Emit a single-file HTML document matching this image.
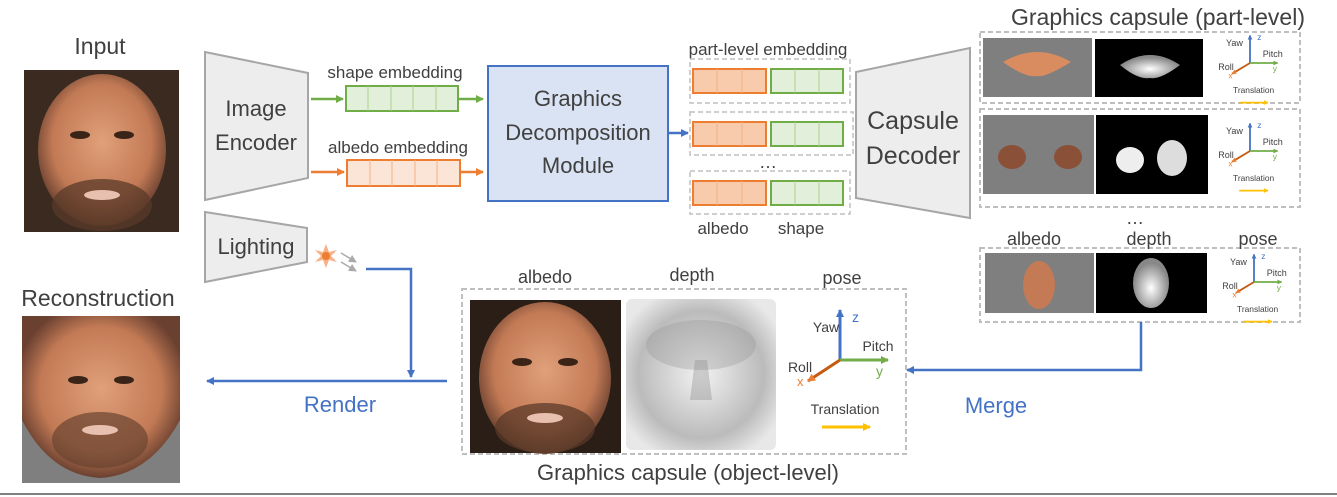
<!DOCTYPE html>
<html><head><meta charset="utf-8"><style>
html,body{margin:0;padding:0;background:#fff;}
svg{display:block;}
text{font-family:"Liberation Sans",sans-serif;fill:#404040;}
</style></head><body>
<svg width="1337" height="497" viewBox="0 0 1337 497" xmlns="http://www.w3.org/2000/svg">
<defs>
<radialGradient id="skin" cx="50%" cy="45%" r="55%"><stop offset="0" stop-color="#e0a07a"/><stop offset="0.7" stop-color="#c27a55"/><stop offset="1" stop-color="#6a4030"/></radialGradient>
<radialGradient id="dep" cx="50%" cy="50%" r="60%"><stop offset="0" stop-color="#f2f2f2"/><stop offset="0.7" stop-color="#bbbbbb"/><stop offset="1" stop-color="#e8e8e8"/></radialGradient>
<radialGradient id="wd" cx="50%" cy="60%" r="50%"><stop offset="0" stop-color="#ffffff"/><stop offset="1" stop-color="#888"/></radialGradient>
<marker id="ab" markerWidth="8" markerHeight="8" refX="7" refY="4" orient="auto" markerUnits="userSpaceOnUse"><path d="M0,0 L8,4 L0,8 z" fill="#4472c4"/></marker>
<marker id="ag" markerWidth="8" markerHeight="8" refX="7" refY="4" orient="auto" markerUnits="userSpaceOnUse"><path d="M0,0 L8,4 L0,8 z" fill="#70ad47"/></marker>
<marker id="ao" markerWidth="8" markerHeight="8" refX="7" refY="4" orient="auto" markerUnits="userSpaceOnUse"><path d="M0,0 L8,4 L0,8 z" fill="#ed7d31"/></marker>
<marker id="ay" markerWidth="8" markerHeight="8" refX="7" refY="4" orient="auto" markerUnits="userSpaceOnUse"><path d="M0,0 L8,4 L0,8 z" fill="#ffc000"/></marker>
<marker id="agr" markerWidth="8" markerHeight="8" refX="7" refY="4" orient="auto" markerUnits="userSpaceOnUse"><path d="M0,0 L8,4 L0,8 z" fill="#aaa"/></marker>
</defs>

<!-- Input -->
<text x="100" y="54" font-size="23" text-anchor="middle">Input</text>
<rect x="24" y="70" width="155" height="162" fill="#3a2a20"/>
<ellipse cx="102" cy="150" rx="64" ry="76" fill="url(#skin)"/>
<ellipse cx="80" cy="135" rx="10" ry="4" fill="#3a2418"/><ellipse cx="124" cy="135" rx="10" ry="4" fill="#3a2418"/>
<ellipse cx="102" cy="205" rx="50" ry="26" fill="#5a3a28" opacity="0.75"/>
<ellipse cx="102" cy="195" rx="18" ry="5" fill="#e8c0b0"/>
<text x="98" y="306" font-size="23" text-anchor="middle">Reconstruction</text>
<rect x="22" y="316" width="158" height="167" fill="#7f7f7f"/>
<path d="M22,316 H180 V420 Q150,475 100,478 Q50,475 22,420 Z" fill="url(#skin)"/>
<ellipse cx="78" cy="380" rx="10" ry="4" fill="#3a2418"/><ellipse cx="124" cy="380" rx="10" ry="4" fill="#3a2418"/>
<ellipse cx="100" cy="440" rx="48" ry="28" fill="#6a4430" opacity="0.7"/>
<ellipse cx="100" cy="430" rx="18" ry="5" fill="#e8c0b0"/>

<!-- Encoder -->
<polygon points="205,52 308,73 308,178 205,200" fill="#ededed" stroke="#a6a6a6" stroke-width="2"/>
<text x="256" y="116" font-size="22" text-anchor="middle">Image</text>
<text x="256" y="150" font-size="22" text-anchor="middle">Encoder</text>
<polygon points="205,212 307,228 307,262 205,282" fill="#ededed" stroke="#a6a6a6" stroke-width="2"/>
<text x="256" y="254" font-size="22" text-anchor="middle">Lighting</text>
<polygon points="326,244 329,252 337,250 331,256 337,262 329,260 326,268 323,260 315,262 321,256 315,250 323,252" fill="#f8b088"/>
<circle cx="326" cy="256" r="4" fill="#ed7d31"/>
<line x1="341" y1="253" x2="356" y2="262" stroke="#aaa" stroke-width="1.5" marker-end="url(#agr)"/>
<line x1="341" y1="262" x2="356" y2="271" stroke="#aaa" stroke-width="1.5" marker-end="url(#agr)"/>
<polyline points="366,269 411,269 411,377" fill="none" stroke="#4472c4" stroke-width="2.5" marker-end="url(#ab)"/>

<!-- embeddings -->
<text x="395" y="78" font-size="17" text-anchor="middle">shape embedding</text>
<line x1="311" y1="99" x2="343" y2="99" stroke="#70ad47" stroke-width="2.5" marker-end="url(#ag)"/>
<rect x="346" y="86" width="112" height="25" fill="#e2efda" stroke="#70ad47" stroke-width="2"/>
<g stroke="#a9d18e" stroke-width="1"><line x1="368" y1="86" x2="368" y2="111"/><line x1="391" y1="86" x2="391" y2="111"/><line x1="413" y1="86" x2="413" y2="111"/><line x1="436" y1="86" x2="436" y2="111"/></g>
<line x1="458" y1="99" x2="483" y2="99" stroke="#70ad47" stroke-width="2.5" marker-end="url(#ag)"/>
<text x="398" y="153" font-size="17" text-anchor="middle">albedo embedding</text>
<line x1="311" y1="172" x2="344" y2="172" stroke="#ed7d31" stroke-width="2.5" marker-end="url(#ao)"/>
<rect x="347" y="160" width="113" height="26" fill="#fbe5d6" stroke="#ed7d31" stroke-width="2"/>
<g stroke="#f4b183" stroke-width="1"><line x1="370" y1="160" x2="370" y2="186"/><line x1="392" y1="160" x2="392" y2="186"/><line x1="415" y1="160" x2="415" y2="186"/><line x1="437" y1="160" x2="437" y2="186"/></g>
<line x1="460" y1="172" x2="483" y2="172" stroke="#ed7d31" stroke-width="2.5" marker-end="url(#ao)"/>

<!-- GDM -->
<rect x="488" y="66" width="180" height="135" fill="#dae3f3" stroke="#4472c4" stroke-width="2"/>
<text x="578" y="106" font-size="22" text-anchor="middle">Graphics</text>
<text x="578" y="140" font-size="22" text-anchor="middle">Decomposition</text>
<text x="578" y="173" font-size="22" text-anchor="middle">Module</text>
<line x1="668" y1="133" x2="688" y2="133" stroke="#4472c4" stroke-width="2.5" marker-end="url(#ab)"/>

<!-- part embeddings -->
<text x="768" y="55" font-size="17" text-anchor="middle">part-level embedding</text>
<g fill="none" stroke="#bfbfbf" stroke-width="1.5" stroke-dasharray="5,3">
<rect x="690" y="59" width="160" height="44"/><rect x="690" y="112" width="163" height="43"/><rect x="690" y="171" width="160" height="43"/>
</g>
<g stroke-width="2">
<rect x="693" y="69" width="73" height="24" fill="#f8cbad" stroke="#ed7d31"/><rect x="771" y="69" width="72" height="24" fill="#e2efda" stroke="#70ad47"/>
<rect x="693" y="122" width="73" height="24" fill="#f8cbad" stroke="#ed7d31"/><rect x="771" y="122" width="72" height="24" fill="#e2efda" stroke="#70ad47"/>
<rect x="693" y="181" width="73" height="24" fill="#f8cbad" stroke="#ed7d31"/><rect x="771" y="181" width="72" height="24" fill="#e2efda" stroke="#70ad47"/>
</g>
<g stroke-width="1"><g stroke="#f4b183"><line x1="717" y1="69" x2="717" y2="93"/><line x1="742" y1="69" x2="742" y2="93"/><line x1="717" y1="122" x2="717" y2="146"/><line x1="742" y1="122" x2="742" y2="146"/><line x1="717" y1="181" x2="717" y2="205"/><line x1="742" y1="181" x2="742" y2="205"/></g>
<g stroke="#a9d18e"><line x1="795" y1="69" x2="795" y2="93"/><line x1="819" y1="69" x2="819" y2="93"/><line x1="795" y1="122" x2="795" y2="146"/><line x1="819" y1="122" x2="819" y2="146"/><line x1="795" y1="181" x2="795" y2="205"/><line x1="819" y1="181" x2="819" y2="205"/></g></g>
<text x="768" y="168" font-size="18" text-anchor="middle">…</text>
<text x="723" y="234" font-size="17" text-anchor="middle">albedo</text>
<text x="801" y="234" font-size="17" text-anchor="middle">shape</text>

<!-- Capsule decoder -->
<polygon points="856,72 970,48 970,218 856,198" fill="#ededed" stroke="#a6a6a6" stroke-width="2"/>
<text x="913" y="129" font-size="25" text-anchor="middle">Capsule</text>
<text x="913" y="164" font-size="25" text-anchor="middle">Decoder</text>

<!-- part-level capsules -->
<text x="1158" y="25" font-size="23" text-anchor="middle">Graphics capsule (part-level)</text>
<g fill="none" stroke="#bfbfbf" stroke-width="2" stroke-dasharray="5,3">
<rect x="980" y="32" width="320" height="71"/><rect x="980" y="109" width="320" height="98"/><rect x="980" y="248" width="320" height="74"/>
</g>
<rect x="983" y="38" width="109" height="59" fill="#7f7f7f"/><path d="M1003,62 Q1037,42 1071,62 Q1045,78 1037,76 Q1025,78 1003,62 Z" fill="#d98c60"/>
<rect x="1095" y="39" width="108" height="58" fill="#000"/><path d="M1120,65 Q1150,45 1180,65 Q1160,80 1150,78 Q1138,80 1120,65 Z" fill="url(#wd)"/>
<rect x="983" y="115" width="111" height="79" fill="#7f7f7f"/><ellipse cx="1012" cy="157" rx="14" ry="12" fill="#8a5038"/><ellipse cx="1068" cy="157" rx="14" ry="12" fill="#8a5038"/>
<rect x="1096" y="115" width="112" height="79" fill="#000"/><ellipse cx="1130" cy="160" rx="14" ry="13" fill="#eee"/><ellipse cx="1172" cy="158" rx="15" ry="18" fill="#ddd"/>
<text x="1135" y="224" font-size="18" text-anchor="middle">…</text>
<text x="1034" y="245" font-size="18" text-anchor="middle">albedo</text>
<text x="1149" y="245" font-size="18" text-anchor="middle">depth</text>
<text x="1258" y="245" font-size="18" text-anchor="middle">pose</text>
<rect x="985" y="253" width="109" height="60" fill="#7f7f7f"/><ellipse cx="1039" cy="285" rx="16" ry="24" fill="#c47a55"/>
<rect x="1096" y="253" width="111" height="60" fill="#000"/><ellipse cx="1151" cy="283" rx="18" ry="25" fill="url(#wd)"/>

<!-- pose icons -->
<g transform="translate(1250,63) scale(0.6)">
<line x1="0" y1="0" x2="0" y2="-46" stroke="#4472c4" stroke-width="3" marker-end="url(#ab)"/>
<line x1="0" y1="0" x2="46" y2="0" stroke="#70ad47" stroke-width="3" marker-end="url(#ag)"/>
<line x1="0" y1="0" x2="-30" y2="18" stroke="#c55a11" stroke-width="3" marker-end="url(#ao)"/>
<text x="-26" y="-28" font-size="15" text-anchor="middle">Yaw</text><text x="12" y="-38" font-size="14" style="fill:#4472c4">z</text>
<text x="38" y="-10" font-size="15" text-anchor="middle">Pitch</text><text x="38" y="14" font-size="14" style="fill:#70ad47">y</text>
<text x="-40" y="12" font-size="15" text-anchor="middle">Roll</text><text x="-36" y="26" font-size="14" style="fill:#ed7d31">x</text>
<text x="6" y="50" font-size="14" text-anchor="middle">Translation</text>
<line x1="-18" y1="66" x2="30" y2="66" stroke="#ffc000" stroke-width="3" marker-end="url(#ay)"/>
</g>
<g transform="translate(1250,151) scale(0.6)">
<line x1="0" y1="0" x2="0" y2="-46" stroke="#4472c4" stroke-width="3" marker-end="url(#ab)"/>
<line x1="0" y1="0" x2="46" y2="0" stroke="#70ad47" stroke-width="3" marker-end="url(#ag)"/>
<line x1="0" y1="0" x2="-30" y2="18" stroke="#c55a11" stroke-width="3" marker-end="url(#ao)"/>
<text x="-26" y="-28" font-size="15" text-anchor="middle">Yaw</text><text x="12" y="-38" font-size="14" style="fill:#4472c4">z</text>
<text x="38" y="-10" font-size="15" text-anchor="middle">Pitch</text><text x="38" y="14" font-size="14" style="fill:#70ad47">y</text>
<text x="-40" y="12" font-size="15" text-anchor="middle">Roll</text><text x="-36" y="26" font-size="14" style="fill:#ed7d31">x</text>
<text x="6" y="50" font-size="14" text-anchor="middle">Translation</text>
<line x1="-18" y1="66" x2="30" y2="66" stroke="#ffc000" stroke-width="3" marker-end="url(#ay)"/>
</g>
<g transform="translate(1254,282) scale(0.6)">
<line x1="0" y1="0" x2="0" y2="-46" stroke="#4472c4" stroke-width="3" marker-end="url(#ab)"/>
<line x1="0" y1="0" x2="46" y2="0" stroke="#70ad47" stroke-width="3" marker-end="url(#ag)"/>
<line x1="0" y1="0" x2="-30" y2="18" stroke="#c55a11" stroke-width="3" marker-end="url(#ao)"/>
<text x="-26" y="-28" font-size="15" text-anchor="middle">Yaw</text><text x="12" y="-38" font-size="14" style="fill:#4472c4">z</text>
<text x="38" y="-10" font-size="15" text-anchor="middle">Pitch</text><text x="38" y="14" font-size="14" style="fill:#70ad47">y</text>
<text x="-40" y="12" font-size="15" text-anchor="middle">Roll</text><text x="-36" y="26" font-size="14" style="fill:#ed7d31">x</text>
<text x="6" y="50" font-size="14" text-anchor="middle">Translation</text>
<line x1="-18" y1="66" x2="30" y2="66" stroke="#ffc000" stroke-width="3" marker-end="url(#ay)"/>
</g>

<!-- merge -->
<polyline points="1141,322 1141,370 907,370" fill="none" stroke="#4472c4" stroke-width="2.5" marker-end="url(#ab)"/>
<text x="996" y="413" font-size="22" text-anchor="middle" style="fill:#4472c4">Merge</text>

<!-- object-level -->
<text x="545" y="283" font-size="18" text-anchor="middle">albedo</text>
<text x="692" y="281" font-size="18" text-anchor="middle">depth</text>
<text x="842" y="284" font-size="18" text-anchor="middle">pose</text>
<rect x="462" y="289" width="444" height="165" fill="none" stroke="#bfbfbf" stroke-width="2" stroke-dasharray="5,3"/>
<rect x="470" y="300" width="151" height="153" fill="#2a1e16"/>
<ellipse cx="545" cy="378" rx="66" ry="76" fill="url(#skin)"/>
<ellipse cx="522" cy="362" rx="10" ry="4" fill="#3a2418"/><ellipse cx="568" cy="362" rx="10" ry="4" fill="#3a2418"/>
<ellipse cx="545" cy="428" rx="50" ry="25" fill="#5a3a28" opacity="0.75"/>
<ellipse cx="545" cy="418" rx="18" ry="5" fill="#e8c0b0"/>
<rect x="626" y="299" width="150" height="151" rx="6" fill="url(#dep)"/>
<ellipse cx="701" cy="345" rx="55" ry="25" fill="#999" opacity="0.35"/>
<path d="M695,360 L707,360 L712,400 L690,400 Z" fill="#888" opacity="0.35"/>
<g transform="translate(840,360)">
<line x1="0" y1="0" x2="0" y2="-50" stroke="#4472c4" stroke-width="3" marker-end="url(#ab)"/>
<line x1="0" y1="0" x2="48" y2="0" stroke="#70ad47" stroke-width="3" marker-end="url(#ag)"/>
<line x1="0" y1="0" x2="-32" y2="21" stroke="#c55a11" stroke-width="3" marker-end="url(#ao)"/>
<text x="-14" y="-28" font-size="14" text-anchor="middle">Yaw</text><text x="12" y="-38" font-size="14" style="fill:#4472c4">z</text>
<text x="38" y="-9" font-size="14" text-anchor="middle">Pitch</text><text x="36" y="16" font-size="14" style="fill:#70ad47">y</text>
<text x="-40" y="12" font-size="14" text-anchor="middle">Roll</text><text x="-43" y="26" font-size="13" style="fill:#ed7d31">x</text>
<text x="5" y="54" font-size="14" text-anchor="middle">Translation</text>
<line x1="-18" y1="67" x2="30" y2="67" stroke="#ffc000" stroke-width="3" marker-end="url(#ay)"/>
</g>
<text x="688" y="480" font-size="22" text-anchor="middle">Graphics capsule (object-level)</text>

<!-- render -->
<line x1="447" y1="381" x2="207" y2="381" stroke="#4472c4" stroke-width="2.5" marker-end="url(#ab)"/>
<text x="340" y="412" font-size="22" text-anchor="middle" style="fill:#4472c4">Render</text>

<line x1="0" y1="494" x2="1337" y2="494" stroke="#808080" stroke-width="2"/>
</svg>
</body></html>
